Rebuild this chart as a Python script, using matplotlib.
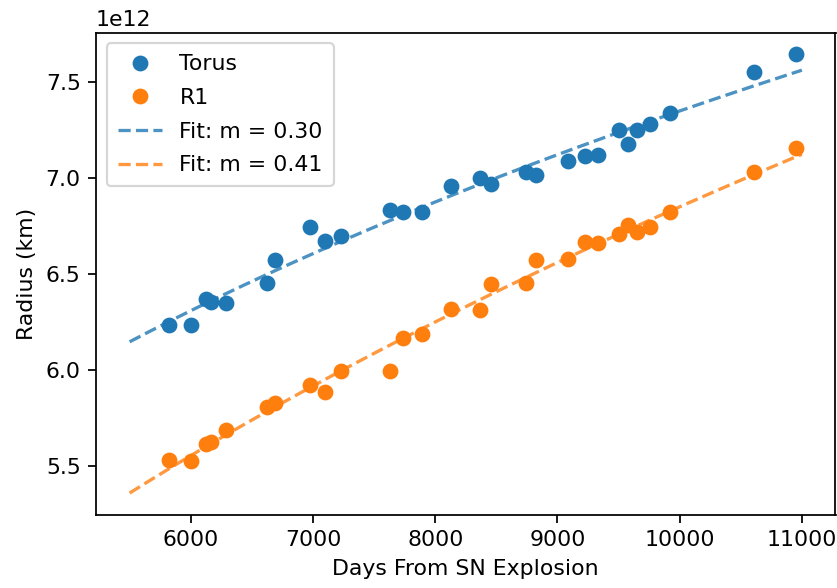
import numpy as np
import matplotlib
matplotlib.use('Agg')
import matplotlib.pyplot as plt

# days from SN explosion (same epochs for both rings)
days = [5823, 6000, 6128, 6169, 6291, 6620, 6693, 6973, 7095, 7231,
        7630, 7739, 7894, 8133, 8364, 8459, 8739, 8821, 9090, 9228,
        9328, 9505, 9579, 9650, 9756, 9919, 10606, 10951]

# radius in units of 1e12 km
torus = [6.235, 6.235, 6.370, 6.356, 6.350, 6.452, 6.574, 6.744, 6.671, 6.696,
         6.832, 6.823, 6.823, 6.960, 7.000, 6.971, 7.032, 7.018, 7.087, 7.114,
         7.122, 7.253, 7.180, 7.253, 7.284, 7.342, 7.551, 7.645]
r1 = [5.530, 5.526, 5.613, 5.622, 5.688, 5.808, 5.827, 5.921, 5.886, 5.991,
      5.991, 6.165, 6.188, 6.315, 6.313, 6.445, 6.452, 6.570, 6.579, 6.666,
      6.661, 6.710, 6.753, 6.718, 6.744, 6.823, 7.032, 7.159]

series_names = ['Torus', 'R1']
fit_labels = ['Fit: m = 0.30', 'Fit: m = 0.41']
fit_range = (5500, 11000)

DPI = 158


def power_fit(t, r):
    # R = A * t^m, fitted in log-log space
    m, b = np.polyfit(np.log(t), np.log(r), 1)
    tt = np.linspace(fit_range[0], fit_range[1], 200)
    return tt, np.exp(b) * tt ** m


fig = plt.figure(figsize=(837 / DPI, 588 / DPI), dpi=DPI)
ax = fig.add_axes([96 / 837, 73 / 588, 739.5 / 837, 482.5 / 588])

t = np.array(days, dtype=float)
ys = [np.array(torus) * 1e12, np.array(r1) * 1e12]
colors = ['#1f77b4', '#ff7f0e']

for y, name, c in zip(ys, series_names, colors):
    ax.plot(t, y, 'o', c=c, ms=6.2, label=name)

for y, lab, c in zip(ys, fit_labels, colors):
    tt, fit = power_fit(t, y)
    ax.plot(tt, fit, '--', c=c, lw=1.5, alpha=0.8, label=lab)

ax.set_xlabel('Days From SN Explosion')
ax.set_ylabel('Radius (km)')
ax.set_xticks([6000, 7000, 8000, 9000, 10000, 11000])
ax.set_yticks([5.5e12, 6.0e12, 6.5e12, 7.0e12, 7.5e12])
ax.legend(loc='upper left', labelspacing=0.62, borderpad=0.5)

fig.savefig('out.png', dpi=DPI)
